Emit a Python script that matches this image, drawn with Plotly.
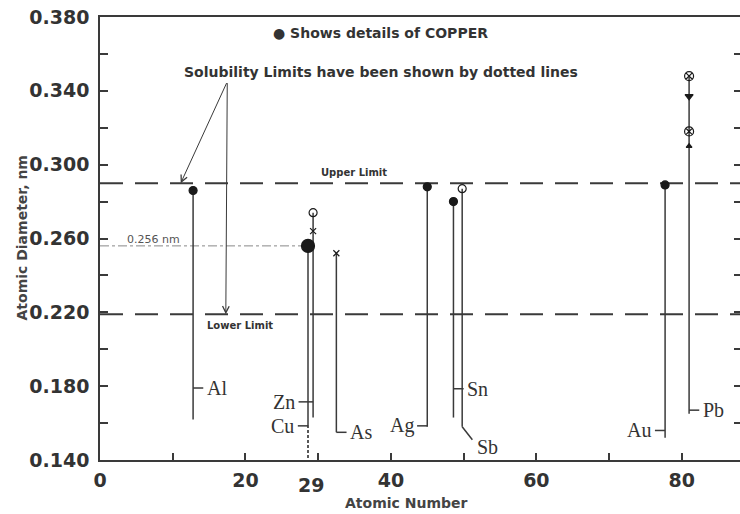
import plotly.graph_objects as go

# ---------------- data ----------------
elements = ["Al", "Cu", "Zn", "As", "Ag", "Sn", "Sb", "Au", "Pb"]
atomic_x = [12.8, 28.6, 29.3, 32.5, 45.0, 48.6, 49.8, 77.7, 81.0]
diam_top = [0.286, 0.256, 0.274, 0.252, 0.288, 0.280, 0.287, 0.289, 0.348]
line_bottom = [0.162, 0.159, 0.163, 0.155, 0.158, 0.163, 0.158, 0.152, 0.165]
label_y = [0.179, 0.1585, 0.1715, 0.155, 0.1585, 0.1786, 0.158, 0.156, 0.167]
label_side = ["right", "left", "left", "right", "left", "right", "diag", "left", "right"]

marker_elem = ["Al", "Cu", "Zn", "Zn", "As", "Ag", "Sn", "Sb", "Au", "Pb", "Pb", "Pb", "Pb"]
marker_val = [0.286, 0.256, 0.274, 0.264, 0.252, 0.288, 0.280, 0.287, 0.289,
              0.348, 0.337, 0.318, 0.310]
marker_kind = ["filled", "copper", "open", "cross", "cross", "filled", "filled", "open",
               "filled", "openx", "tridown", "openx", "triup"]

upper_limit = 0.290
lower_limit = 0.219
cu_diameter = 0.256
cu_number = 29

x_range = [0, 88]
y_range = [0.14, 0.38]

# ---------------- styling ----------------
INK = "#3a3a3a"
TXT = "#333333"
SANS = "DejaVu Sans"
SERIF = "Liberation Serif"

kind_style = {
    "filled": dict(symbol="circle", size=8),
    "copper": dict(symbol="circle", size=13),
    "open": dict(symbol="circle-open", size=8),
    "cross": dict(symbol="x-thin-open", size=6),
    "openx": dict(symbol="circle-x-open", size=9),
    "tridown": dict(symbol="triangle-down", size=7),
    "triup": dict(symbol="triangle-up", size=5),
}

fig = go.Figure()

# limits (dashed)
for lim in (upper_limit, lower_limit):
    fig.add_trace(go.Scatter(x=x_range, y=[lim, lim], mode="lines",
                             line=dict(color=INK, width=2, dash="23px,12px"),
                             hoverinfo="skip"))

# copper reference dash-dot line
cu_idx = elements.index("Cu")
fig.add_trace(go.Scatter(x=[0, atomic_x[cu_idx]], y=[cu_diameter, cu_diameter], mode="lines",
                         line=dict(color="#888888", width=1, dash="dashdot"), hoverinfo="skip"))
# dotted extension of copper line to axis
fig.add_trace(go.Scatter(x=[atomic_x[cu_idx], atomic_x[cu_idx]], y=[line_bottom[cu_idx], y_range[0]],
                         mode="lines", line=dict(color="#222222", width=1.5, dash="3px,2px"),
                         hoverinfo="skip"))

# vertical element lines and label ticks
lx, ly = [], []
tick_len = 1.4
for el, xv, top, bot, lyv, side in zip(elements, atomic_x, diam_top, line_bottom, label_y, label_side):
    lx += [xv, xv, None]
    ly += [top, bot, None]
    if side == "right":
        lx += [xv, xv + tick_len, None]
        ly += [lyv, lyv, None]
    elif side == "left":
        tl = 2.0 if el == "Zn" else tick_len
        lx += [xv - tl, xv, None]
        ly += [lyv, lyv, None]
    else:
        lx += [xv, xv + tick_len, None]
        ly += [bot, bot - 0.007, None]
fig.add_trace(go.Scatter(x=lx, y=ly, mode="lines", line=dict(color=INK, width=1.5),
                         hoverinfo="skip"))

# markers
for kind in kind_style:
    xs = [atomic_x[elements.index(e)] for e, k in zip(marker_elem, marker_kind) if k == kind]
    ys = [v for v, k in zip(marker_val, marker_kind) if k == kind]
    st = kind_style[kind]
    fig.add_trace(go.Scatter(x=xs, y=ys, mode="markers",
                             marker=dict(symbol=st["symbol"], size=st["size"], color="#1a1a1a",
                                         line=dict(color="#1a1a1a", width=1.2)),
                             hoverinfo="skip"))

# element labels
for el, xv, bot, lyv, side in zip(elements, atomic_x, line_bottom, label_y, label_side):
    if side == "right":
        ax_, ay_, anchor = xv + tick_len + 0.2, lyv, "left"
    elif side == "left":
        tl = 2.0 if el == "Zn" else tick_len
        ax_, ay_, anchor = xv - tl - 0.2, lyv, "right"
    else:
        ax_, ay_, anchor = xv + tick_len + 0.3, bot - 0.011, "left"
    fig.add_annotation(x=ax_, y=ay_, text=el, showarrow=False, xanchor=anchor, yanchor="middle",
                       font=dict(family=SERIF, size=20, color=TXT))

# invisible trace for right-hand tick axis
fig.add_trace(go.Scatter(x=[0], y=[0.2], yaxis="y2", mode="markers",
                         marker=dict(opacity=0), hoverinfo="skip"))

# text annotations
fig.add_annotation(x=38.6, y=0.3713, text="● Shows details of COPPER", showarrow=False,
                   font=dict(family=SANS, size=14, color=TXT, weight="bold"))
fig.add_annotation(x=38.6, y=0.3502, text="Solubility Limits have been shown by dotted lines",
                   showarrow=False, font=dict(family=SANS, size=14, color=TXT, weight="bold"))
fig.add_annotation(x=34.9, y=0.2955, text="Upper Limit", showarrow=False,
                   font=dict(family=SANS, size=10, color=TXT, weight="bold"))
fig.add_annotation(x=19.3, y=0.2126, text="Lower Limit", showarrow=False,
                   font=dict(family=SANS, size=10, color=TXT, weight="bold"))
fig.add_annotation(x=7.3, y=0.2597, text="0.256 nm", showarrow=False,
                   font=dict(family=SANS, size=11, color="#555555"))

# arrows from the note to the two limits
for tipx, tipy in ((11.1, upper_limit), (17.3, lower_limit)):
    fig.add_annotation(x=tipx, y=tipy, ax=17.5, ay=0.345, axref="x", ayref="y",
                       xref="x", yref="y", text="", showarrow=True, arrowhead=5,
                       arrowsize=1.3, arrowwidth=1, arrowcolor=INK)

# "29" label under the axis
fig.add_annotation(x=cu_number, y=0, xref="x", yref="paper", yshift=-25, text="29",
                   showarrow=False, yanchor="middle",
                   font=dict(family=SANS, size=19, color=TXT, weight="bold"))

# axis titles
fig.add_annotation(x=0, y=0.5, xref="paper", yref="paper", xshift=-79, text="Atomic Diameter, nm",
                   textangle=-90, showarrow=False, xanchor="center", yanchor="middle",
                   font=dict(family=SANS, size=14, color="#444444", weight="bold"))
fig.add_annotation(x=42.1, y=0, xref="x", yref="paper", yshift=-43, text="Atomic Number",
                   showarrow=False, yanchor="middle",
                   font=dict(family=SANS, size=14, color="#444444", weight="bold"))

fig.update_layout(
    width=740, height=514,
    margin=dict(l=100, r=0, t=17, b=54),
    paper_bgcolor="white", plot_bgcolor="white",
    showlegend=False,
    xaxis=dict(range=x_range, tick0=0, dtick=20, ticks="inside", ticklen=7, tickwidth=1.5,
               tickcolor=INK, showline=True, linecolor=INK, linewidth=1.5, mirror=True,
               showgrid=False, zeroline=False, ticklabelstandoff=2,
               tickfont=dict(family=SANS, size=19, color=TXT, weight="bold"),
               minor=dict(ticks="inside", ticklen=7, dtick=10, tickcolor=INK, tickwidth=1.5)),
    yaxis=dict(range=y_range, tick0=0.14, dtick=0.04, tickformat=".3f", ticks="inside",
               ticklen=8, tickwidth=1.5, tickcolor=INK, showline=True, linecolor=INK,
               linewidth=1.5, showgrid=False, zeroline=False, ticklabelstandoff=5,
               tickfont=dict(family=SANS, size=19, color=TXT, weight="bold"),
               minor=dict(ticks="inside", ticklen=8, dtick=0.02, tickcolor=INK, tickwidth=1.5)),
    yaxis2=dict(range=y_range, overlaying="y", side="right", tick0=0.14, dtick=0.02,
                ticks="inside", ticklen=6, tickwidth=1.5, tickcolor=INK, showline=False,
                showticklabels=False, showgrid=False, zeroline=False),
)

fig.write_html("out.html")
